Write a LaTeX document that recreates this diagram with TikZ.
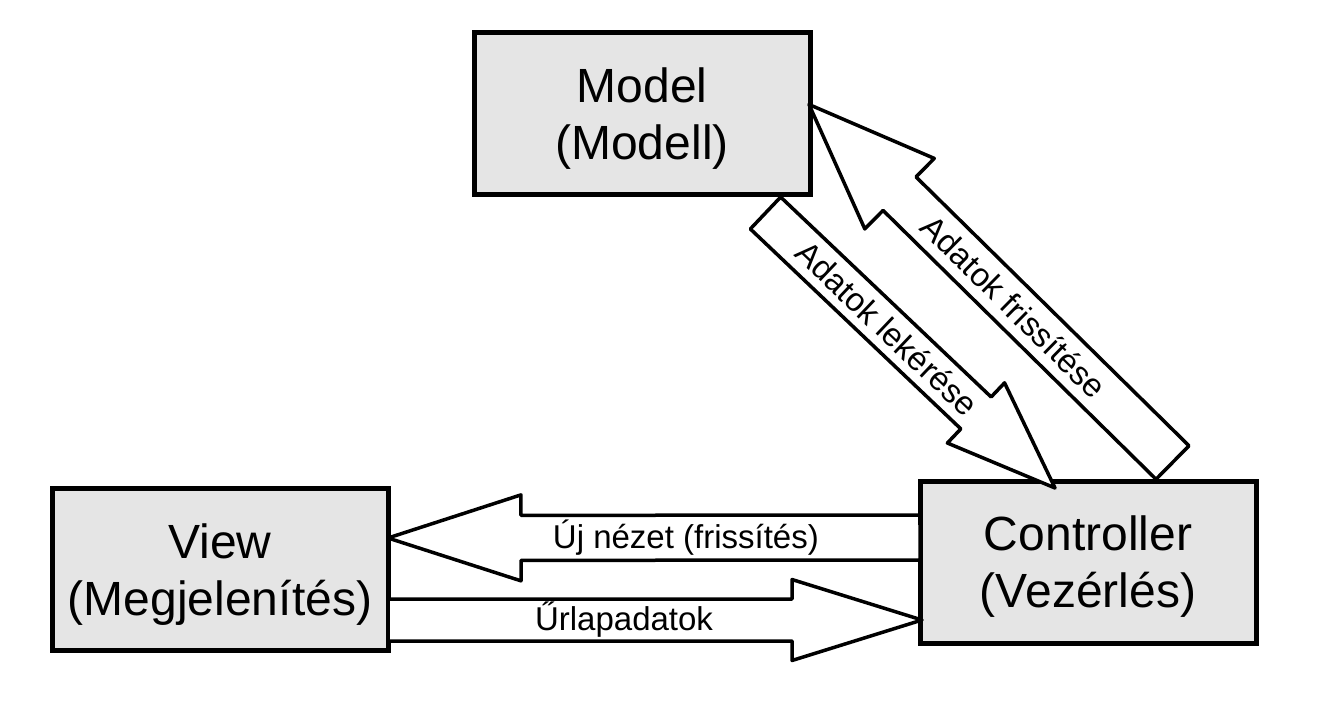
\documentclass[tikz,border=0pt]{standalone}
\usepackage{fontspec}
\setmainfont{Liberation Sans}
\usetikzlibrary{positioning,calc}

\begin{document}
\begin{tikzpicture}[
        x=1pt, y=-1pt,
        box/.style={draw, rectangle, align=center, fill=gray!20, line width=5pt,
            minimum width=336pt, minimum height=162pt, inner sep=0pt, outer sep=0pt,
            text depth=0pt, font=\fontsize{48}{57}\selectfont},
        fat/.style n args={3}{draw, fill=white, line width=3.5pt, line join=round,
            to path={
                let \p1=(\tikztostart), \p2=(\tikztotarget),
                    \n1={atan2(\y2-\y1,\x2-\x1)},
                    \n2={veclen(\x2-\x1,\y2-\y1)-#3} in
                ($(\p1)+(\n1+90:#1pt)$)
                -- ($(\p1)+(\n1:\n2)+(\n1+90:#1pt)$)
                -- ($(\p1)+(\n1:\n2)+(\n1+90:#2pt)$)
                -- (\p2)
                -- ($(\p1)+(\n1:\n2)+(\n1-90:#2pt)$)
                -- ($(\p1)+(\n1:\n2)+(\n1-90:#1pt)$)
                -- ($(\p1)+(\n1-90:#1pt)$) -- cycle}},
        lbl/.style={font=\fontsize{33}{38}\selectfont, inner sep=0pt}
    ]
    \useasboundingbox (0,0) rectangle (1317,707);

    \node[box] (view) at (220,569.5) {View\\(Megjelenítés)};
    \node[box, right=532pt of view, yshift=7.5pt] (ctrl) {Controller\\(Vezérlés)};
    \node[box, above right=294pt and 86pt of view] (model) {Model\\(Modell)};

    \draw[fat={22}{41.5}{109}] ([xshift=-44.5pt,yshift=-18.5pt]model.south east)
        to ([xshift=135pt,yshift=-7pt]ctrl.north west);
    \draw[fat={23.5}{49.5}{127}] ([xshift=252.5pt,yshift=18.5pt]ctrl.north west)
        to ([xshift=-1pt,yshift=-72pt]model.north east);
    \draw[fat={22.5}{43}{133}] ([yshift=24.5pt]ctrl.west) to ([yshift=31.5pt]view.east);
    \draw[fat={21}{40.5}{130}] ([yshift=-50.5pt]view.east) to ([xshift=2pt,yshift=-58pt]ctrl.west);

    \path ([xshift=-44.5pt,yshift=-18.5pt]model.south east)
        -- node[lbl, sloped, pos=.42] (fetchtxt) {Adatok lekérése}
        ([xshift=135pt,yshift=-7pt]ctrl.north west);
    \path ([xshift=252.5pt,yshift=18.5pt]ctrl.north west)
        -- node[lbl, sloped, pos=.436] (updatetxt) {Adatok frissítése}
        ([xshift=-1pt,yshift=-72pt]model.north east);
    \path ([yshift=24.5pt]ctrl.west)
        -- node[lbl, pos=.44] (newtxt) {Új nézet (frissítés)} ([yshift=31.5pt]view.east);
    \path ([yshift=-50.5pt]view.east)
        -- node[lbl, pos=.442] (formtxt) {Űrlapadatok} ([xshift=2pt,yshift=-58pt]ctrl.west);
\end{tikzpicture}
\end{document}
